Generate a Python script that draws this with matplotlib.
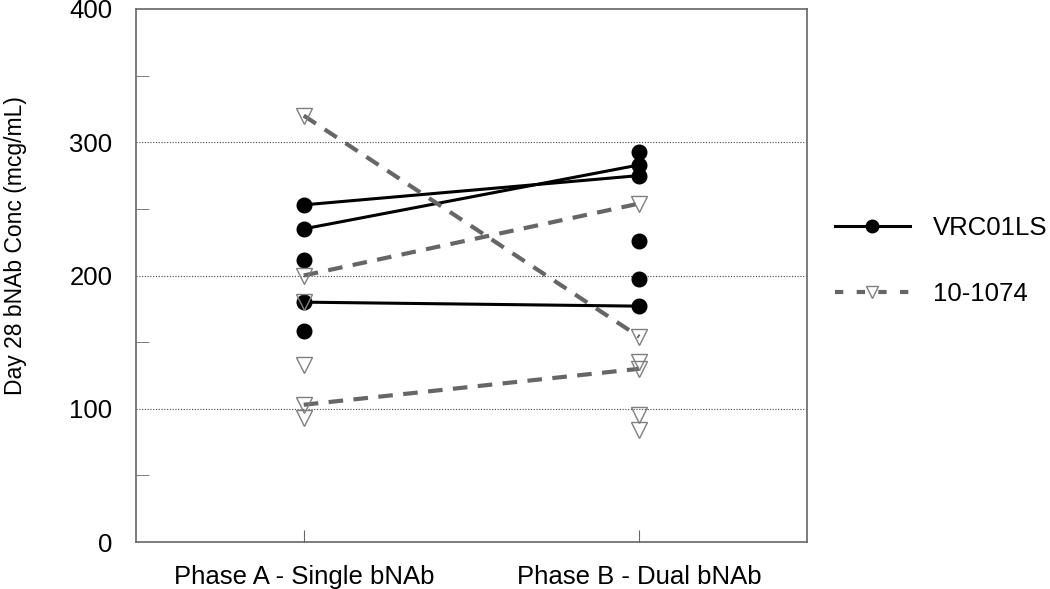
import matplotlib.pyplot as plt
from matplotlib.ticker import MultipleLocator
from matplotlib.lines import Line2D

plt.rcParams['font.family'] = ['Liberation Sans', 'DejaVu Sans']

phases = ["Phase A - Single bNAb", "Phase B - Dual bNAb"]

# VRC01LS: paired participants (A -> B) and unpaired points
vrc_pair_a = [253, 235, 180]
vrc_pair_b = [275, 283, 177]
vrc_only_a = [212, 158]
vrc_only_b = [293, 226, 197]

# 10-1074: paired participants (A -> B) and unpaired points
bnab_pair_a = [320, 200, 103]
bnab_pair_b = [154, 254, 130]
bnab_only_a = [180, 133, 93]
bnab_only_b = [135, 95, 84]

fig = plt.figure(figsize=(10.5, 5.89), dpi=100)
ax = fig.add_axes([136 / 1050, 1 - 542 / 589, (807 - 136) / 1050, (542 - 9) / 589])

xa, xb = 1, 2
circ = dict(marker='o', markersize=10.5, markerfacecolor='black', markeredgecolor='black')
tri = dict(marker='v', markersize=11, markerfacecolor='none',
           markeredgecolor='#7f7f7f', markeredgewidth=1.0)

# solid lines for VRC01LS
for a, b in zip(vrc_pair_a, vrc_pair_b):
    ax.plot([xa, xb], [a, b], color='black', lw=2.2, zorder=2, **circ)
ax.plot([xa] * len(vrc_only_a), vrc_only_a, ls='none', zorder=3, **circ)
ax.plot([xb] * len(vrc_only_b), vrc_only_b, ls='none', zorder=3, **circ)

# dashed lines for 10-1074
for a, b in zip(bnab_pair_a, bnab_pair_b):
    ax.plot([xa, xb], [a, b], color='#666666', lw=3, dashes=(3.5, 2.5), zorder=4, **tri)
ax.plot([xa] * len(bnab_only_a), bnab_only_a, ls='none', zorder=4, **tri)
ax.plot([xb] * len(bnab_only_b), bnab_only_b, ls='none', zorder=4, **tri)

ax.set_xlim(0.5, 2.5)
ax.set_ylim(0, 400)
ax.set_xticks([xa, xb])
ax.set_xticklabels(phases, fontsize=18.5)
ax.yaxis.set_major_locator(MultipleLocator(100))
ax.yaxis.set_minor_locator(MultipleLocator(50))
ax.tick_params(axis='y', which='major', length=0, labelsize=18.5, pad=17)
ax.tick_params(axis='y', which='minor', length=9, direction='in', color='#666666')
ax.tick_params(axis='x', length=9, direction='in', color='#666666', pad=16.5)
for v in [100, 200, 300]:
    ax.axhline(v, color='#444444', lw=0.8, ls=(0, (1, 1.5)), zorder=1)
for s in ax.spines.values():
    s.set_color('#666666')
    s.set_linewidth(1.2)

fig.text(16 / 1050, 1 - 246 / 589, "Day 28 bNAb Conc (mcg/mL)", fontsize=16.5,
         rotation=90, ha='center', va='center')

handles = [
    Line2D([], [], color='black', lw=2.2, marker='o', markersize=9, markerfacecolor='black'),
    Line2D([], [], color='#666666', lw=3, dashes=(2, 3.2), marker='v', markersize=9,
           markerfacecolor='none', markeredgecolor='#7f7f7f'),
]
fig.legend(handles, ["VRC01LS", "10-1074"], loc='center left',
           bbox_to_anchor=(812 / 1050, 1 - 261 / 589), frameon=False,
           fontsize=18.5, handlelength=2.9, labelspacing=1.65, handletextpad=0.9)

fig.savefig("out.png", dpi=100)
